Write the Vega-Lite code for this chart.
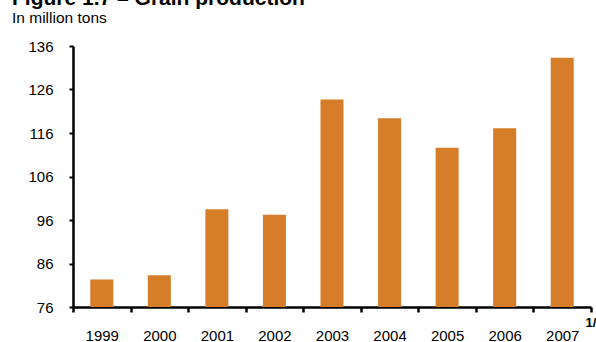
{
  "$schema": "https://vega.github.io/schema/vega-lite/v6.json",
  "autosize": "none",
  "width": 518,
  "height": 261,
  "padding": {"left": 73, "top": 46, "right": 5, "bottom": 35},
  "background": "white",
  "title": {
    "text": "Figure 1.7 – Grain production",
    "subtitle": "In million tons",
    "anchor": "start",
    "frame": "group",
    "dx": -61,
    "offset": 13,
    "font": "Liberation Sans",
    "fontSize": 21,
    "fontWeight": "bold",
    "color": "black",
    "subtitleFont": "Liberation Sans",
    "subtitleFontSize": 15.5,
    "subtitleColor": "black",
    "subtitlePadding": 2
  },
  "data": {
    "values": [
      {"year": "1999", "tons": 82.3},
      {"year": "2000", "tons": 83.3},
      {"year": "2001", "tons": 98.5},
      {"year": "2002", "tons": 97.2},
      {"year": "2003", "tons": 123.7},
      {"year": "2004", "tons": 119.4},
      {"year": "2005", "tons": 112.6},
      {"year": "2006", "tons": 117.1},
      {"year": "2007", "tons": 133.3}
    ]
  },
  "mark": {"type": "bar", "color": "#D67D2A", "clip": true, "width": {"band": 0.4}},
  "encoding": {
    "x": {
      "field": "year",
      "type": "ordinal",
      "scale": {"paddingInner": 0, "paddingOuter": 0},
      "axis": {
        "title": "1/",
        "titleAnchor": "end",
        "titleAlign": "left",
        "titleBaseline": "middle",
        "titleX": 512,
        "titleY": 15,
        "titleFont": "Liberation Sans",
        "titleFontSize": 13,
        "titleFontWeight": "bold",
        "labelAngle": 0,
        "labelFont": "Liberation Sans",
        "labelFontSize": 15,
        "labelColor": "black",
        "labelPadding": 16,
        "ticks": true,
        "tickBand": "extent",
        "tickColor": "black",
        "tickWidth": 2.5,
        "tickSize": 5,
        "domainColor": "black",
        "domainWidth": 2.5
      }
    },
    "y": {
      "field": "tons",
      "type": "quantitative",
      "scale": {"domain": [76, 136], "zero": false, "nice": false},
      "axis": {
        "title": null,
        "values": [76, 86, 96, 106, 116, 126, 136],
        "grid": false,
        "labelFont": "Liberation Sans",
        "labelFontSize": 15,
        "labelColor": "black",
        "labelPadding": 16,
        "tickColor": "black",
        "tickWidth": 2,
        "tickSize": 4,
        "domainColor": "black",
        "domainWidth": 2.5
      }
    }
  },
  "config": {"view": {"stroke": null}}
}
